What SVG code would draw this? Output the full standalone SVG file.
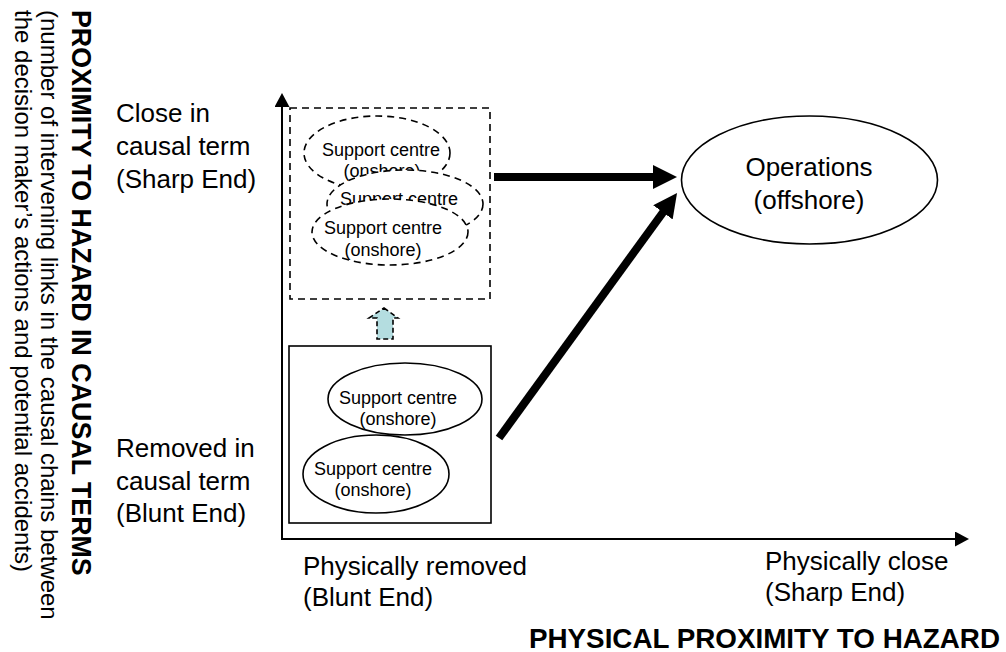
<svg xmlns="http://www.w3.org/2000/svg" width="1006" height="652" viewBox="0 0 1006 652">
  <style>
    .lbl { font-family: "Liberation Sans", Arial, sans-serif; font-size: 26px; fill: #000; }
    .vlbl { font-family: "Liberation Sans", Arial, sans-serif; font-size: 24px; fill: #000; }
    .vtitle { font-family: "Liberation Sans", Arial, sans-serif; font-size: 26.8px; font-weight: bold; fill: #000; }
    .htitle { font-family: "Liberation Sans", Arial, sans-serif; font-size: 27.8px; font-weight: bold; fill: #000; text-anchor: end; }
    .node-text { font-family: "Liberation Sans", Arial, sans-serif; font-size: 18px; fill: #000; text-anchor: middle; }
    .ell { fill: #fff; stroke: #000; stroke-width: 1.6; }
    .dash { stroke-dasharray: 7 5; }
    .axis { fill: none; stroke: #000; stroke-width: 2; }
    .thick { fill: none; stroke: #000; stroke-width: 8; }
  </style>
  <defs>
    <marker id="axisHead" markerUnits="userSpaceOnUse" viewBox="0 0 14 15" refX="1" refY="7.5" markerWidth="14" markerHeight="15" orient="auto-start-reverse">
      <path d="M0,0 L14,7.5 L0,15 Z" fill="#000"/>
    </marker>
    <marker id="bigHead" markerUnits="userSpaceOnUse" viewBox="0 0 24 24" refX="2" refY="12" markerWidth="24" markerHeight="24" orient="auto">
      <path d="M0,0 L24,12 L0,24 Z" fill="#000"/>
    </marker>
  </defs>

  <!-- vertical axis title block -->
  <g id="y-axis-title">
    <text class="vtitle" x="72" y="10" transform="rotate(90 72 10)">PROXIMITY TO HAZARD IN CAUSAL TERMS</text>
    <text class="vlbl" x="41" y="10" transform="rotate(90 41 10)">(number of intervening links in the causal chains between</text>
    <text class="vlbl" x="15" y="10" transform="rotate(90 15 10)">the decision maker’s actions and potential accidents)</text>
  </g>

  <!-- axis end labels -->
  <g id="label-close-causal">
    <text class="lbl" x="116" y="122">Close in</text>
    <text class="lbl" x="116" y="155">causal term</text>
    <text class="lbl" x="116" y="188">(Sharp End)</text>
  </g>
  <g id="label-removed-causal">
    <text class="lbl" x="116" y="457">Removed in</text>
    <text class="lbl" x="116" y="490">causal term</text>
    <text class="lbl" x="116" y="522">(Blunt End)</text>
  </g>
  <g id="label-physically-removed">
    <text class="lbl" x="303" y="575">Physically removed</text>
    <text class="lbl" x="303" y="606">(Blunt End)</text>
  </g>
  <g id="label-physically-close">
    <text class="lbl" x="765" y="570">Physically close</text>
    <text class="lbl" x="765" y="601">(Sharp End)</text>
  </g>
  <g id="x-axis-title">
    <text class="htitle" x="1000" y="648">PHYSICAL PROXIMITY TO HAZARD</text>
  </g>

  <!-- axes -->
  <g id="axes">
    <path class="axis" d="M282,106 L282,539 L956,539" marker-start="url(#axisHead)" marker-end="url(#axisHead)"/>
  </g>

  <!-- future grouping (dashed) -->
  <g id="group-future">
    <rect class="dash" x="290" y="108" width="200" height="191" fill="none" stroke="#000" stroke-width="1.6"/>
  </g>
  <g id="support-future-1">
    <ellipse class="ell dash" cx="377" cy="153" rx="73" ry="37"/>
    <text class="node-text" x="381" y="155.5">Support centre</text>
    <text class="node-text" x="382" y="177">(onshore)</text>
  </g>
  <g id="support-future-2">
    <ellipse class="ell dash" cx="405" cy="204" rx="78" ry="34"/>
    <text class="node-text" x="399" y="205">Support centre</text>
  </g>
  <g id="support-future-3">
    <ellipse class="ell dash" cx="390" cy="232" rx="78" ry="33"/>
    <text class="node-text" x="383" y="233.5">Support centre</text>
    <text class="node-text" x="383" y="256">(onshore)</text>
  </g>

  <!-- current grouping (solid) -->
  <g id="group-current">
    <rect x="289" y="346" width="202" height="177" fill="none" stroke="#000" stroke-width="1.6"/>
  </g>
  <g id="support-current-1">
    <ellipse class="ell" cx="405" cy="399" rx="77" ry="36"/>
    <text class="node-text" x="398" y="403.5">Support centre</text>
    <text class="node-text" x="398" y="424.5">(onshore)</text>
  </g>
  <g id="support-current-2">
    <ellipse class="ell" cx="376" cy="474" rx="73" ry="39"/>
    <text class="node-text" x="373" y="474.5">Support centre</text>
    <text class="node-text" x="373" y="496">(onshore)</text>
  </g>

  <!-- operations -->
  <g id="operations">
    <ellipse class="ell" cx="809.5" cy="180" rx="128" ry="64"/>
    <text class="lbl" x="809" y="176" text-anchor="middle">Operations</text>
    <text class="lbl" x="809" y="209" text-anchor="middle">(offshore)</text>
  </g>

  <!-- connectors -->
  <g id="connectors">
    <path d="M384,308 L398,318 L393,318 L393,339 L377,339 L377,318 L369,318 Z" fill="#b4dde0" stroke="#000" stroke-width="1.6" stroke-dasharray="5 3"/>
    <line class="thick" x1="494" y1="177" x2="655" y2="177" marker-end="url(#bigHead)"/>
    <line class="thick" x1="499" y1="438" x2="664.1" y2="210.8" marker-end="url(#bigHead)"/>
  </g>
</svg>
